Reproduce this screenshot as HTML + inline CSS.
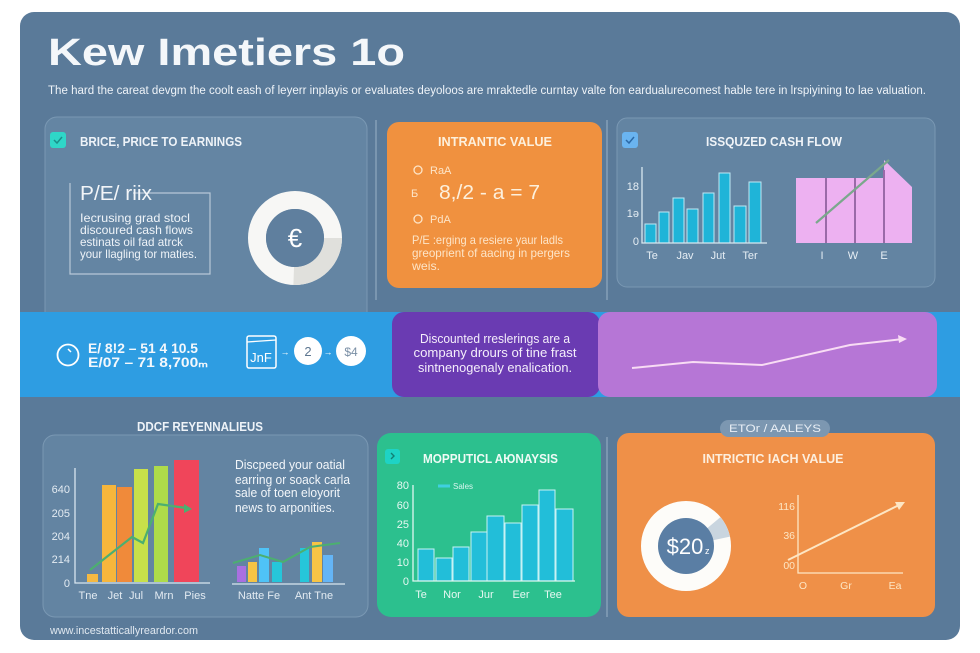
<!DOCTYPE html>
<html><head><meta charset="utf-8"><style>
html,body{margin:0;padding:0;background:#fff;}
svg{display:block;}
text{font-family:"Liberation Sans",sans-serif;}
</style></head><body>
<svg width="980" height="653" viewBox="0 0 980 653" xmlns="http://www.w3.org/2000/svg">
<rect width="980" height="653" fill="#ffffff"/>
<!-- main panel -->
<rect x="20" y="12" width="940" height="628" rx="14" fill="#5a7a99"/>
<text x="48" y="65" font-size="38" font-weight="bold" fill="#f4f7fa" textLength="357" lengthAdjust="spacingAndGlyphs">Kew Imetiers 1o</text>
<text x="48" y="94" font-size="11.5" fill="#eef3f8" textLength="878" lengthAdjust="spacingAndGlyphs">The hard the careat devgm the coolt eash of leyerr inplayis or evaluates deyoloos are mraktedle curntay valte fon eardualurecomest hable tere in lrspiyining to lae valuation.</text>

<!-- top-left card -->
<rect x="45" y="117" width="322" height="213" rx="12" fill="#6485a3" stroke="#7a98b3" stroke-width="1"/>
<rect x="50" y="132" width="16" height="16" rx="3" fill="#2fd6c8"/>
<path d="M54 140 l3 3 l5 -6" stroke="#1a8f8a" stroke-width="1.5" fill="none"/>
<text x="80" y="146" font-size="13" font-weight="bold" fill="#eef3f8" textLength="162" lengthAdjust="spacingAndGlyphs">BRICE, PRICE TO EARNINGS</text>
<path d="M70 183 V274 H210 V193 H133" stroke="#b7c8d8" stroke-width="1.2" fill="none"/>
<text x="80" y="200" font-size="20" fill="#f2f5f8" textLength="72" lengthAdjust="spacingAndGlyphs">P/E/ riix</text>
<g font-size="12" fill="#eef3f8">
<text x="80" y="222" textLength="110" lengthAdjust="spacingAndGlyphs">Iecrusing grad stocl</text>
<text x="80" y="234" textLength="113" lengthAdjust="spacingAndGlyphs">discoured cash flows</text>
<text x="80" y="246" textLength="103" lengthAdjust="spacingAndGlyphs">estinats oil fad atrck</text>
<text x="80" y="258" textLength="117" lengthAdjust="spacingAndGlyphs">your llagling tor maties.</text>
</g>
<circle cx="295" cy="238" r="38" fill="none" stroke="#f7f7f5" stroke-width="18"/>
<path d="M333 238 A38 38 0 0 1 293.7 276" fill="none" stroke="#e0e0dc" stroke-width="18"/>
<circle cx="295" cy="238" r="29" fill="#5f7f9e"/>
<text x="295" y="247" font-size="26" fill="#ffffff" text-anchor="middle">€</text>

<line x1="376" y1="120" x2="376" y2="300" stroke="#8fa9c0" stroke-width="1.2"/>
<line x1="607" y1="120" x2="607" y2="300" stroke="#8fa9c0" stroke-width="1.2"/>

<!-- top-middle orange -->
<rect x="387" y="122" width="215" height="166" rx="12" fill="#f0913f"/>
<text x="495" y="146" font-size="12.5" font-weight="bold" fill="#fdf0dc" text-anchor="middle" textLength="114" lengthAdjust="spacingAndGlyphs">INTRANTIC VALUE</text>
<circle cx="418" cy="170" r="4" fill="none" stroke="#fde5c8" stroke-width="1.3"/>
<text x="430" y="174" font-size="11" fill="#fde5c8">RaA</text>
<text x="411" y="197" font-size="11" fill="#fde5c8">Б</text>
<text x="439" y="199" font-size="20" fill="#fdf0dc" textLength="101" lengthAdjust="spacingAndGlyphs">8,/2 - a = 7</text>
<circle cx="418" cy="219" r="4" fill="none" stroke="#fde5c8" stroke-width="1.3"/>
<text x="430" y="223" font-size="11" fill="#fde5c8">PdA</text>
<g font-size="12" fill="#fde5c8">
<text x="412" y="244" textLength="151" lengthAdjust="spacingAndGlyphs">P/E :erging a resiere yaur ladls</text>
<text x="412" y="257" textLength="158" lengthAdjust="spacingAndGlyphs">greoprient of aacing in pergers</text>
<text x="412" y="270" textLength="28" lengthAdjust="spacingAndGlyphs">weis.</text>
</g>

<!-- top-right card -->
<rect x="617" y="118" width="318" height="169" rx="10" fill="#6384a2" stroke="#7a98b3" stroke-width="1"/>
<rect x="622" y="132" width="16" height="16" rx="3" fill="#6ab4f0"/>
<path d="M626 140 l3 3 l5 -6" stroke="#2b6aa8" stroke-width="1.5" fill="none"/>
<text x="774" y="146" font-size="13" font-weight="bold" fill="#f0f4f8" text-anchor="middle" textLength="136" lengthAdjust="spacingAndGlyphs">ISSQUZED CASH FLOW</text>
<g fill="#1fb4d8" stroke="#bfe8f4" stroke-width="1">
<rect x="645" y="224" width="11" height="19"/>
<rect x="659" y="212" width="10" height="31"/>
<rect x="673" y="198" width="11" height="45"/>
<rect x="687" y="209" width="11" height="34"/>
<rect x="703" y="193" width="11" height="50"/>
<rect x="719" y="173" width="11" height="70"/>
<rect x="734" y="206" width="12" height="37"/>
<rect x="749" y="182" width="12" height="61"/>
</g>
<path d="M642 167 V243 H767" stroke="#d8e8f0" stroke-width="1.3" fill="none"/>
<g font-size="11" fill="#e6eef4">
<text x="639" y="190" text-anchor="end">18</text>
<text x="639" y="217" text-anchor="end">1ə</text>
<text x="639" y="245" text-anchor="end">0</text>
<text x="652" y="259" text-anchor="middle">Te</text>
<text x="685" y="259" text-anchor="middle">Jav</text>
<text x="718" y="259" text-anchor="middle">Jut</text>
<text x="750" y="259" text-anchor="middle">Ter</text>
</g>
<g fill="#edb1f1">
<rect x="796" y="178" width="88" height="65"/>
<polygon points="884,160 912,187 912,243 884,243"/>
</g>
<g stroke="#9a6aa8" stroke-width="2">
<line x1="826" y1="178" x2="826" y2="243"/>
<line x1="855" y1="178" x2="855" y2="243"/>
<line x1="884" y1="170" x2="884" y2="243"/>
</g>
<line x1="816" y1="223" x2="889" y2="160" stroke="#7aa88c" stroke-width="2.2"/>
<g font-size="11" fill="#e6eef4" text-anchor="middle">
<text x="822" y="259">I</text>
<text x="853" y="259">W</text>
<text x="884" y="259">E</text>
</g>

<!-- middle band -->
<rect x="20" y="312" width="940" height="85" fill="#2e9de2"/>
<circle cx="68" cy="355" r="10.5" fill="none" stroke="#ffffff" stroke-width="1.8"/>
<line x1="68" y1="349" x2="71" y2="352" stroke="#ffffff" stroke-width="1.5"/>
<g font-size="13.5" font-weight="bold" fill="#f4f8fc">
<text x="88" y="353" textLength="110" lengthAdjust="spacingAndGlyphs">E/ 8!2 – 51 4 10.5</text>
<text x="88" y="367" textLength="120" lengthAdjust="spacingAndGlyphs">E/07 – 71 8,700ₘ</text>
</g>
<rect x="247" y="336" width="29" height="32" rx="2" fill="none" stroke="#ffffff" stroke-width="1.5"/>
<line x1="247" y1="342" x2="276" y2="340" stroke="#ffffff" stroke-width="1.3"/>
<text x="261" y="362" font-size="13" fill="#ffffff" text-anchor="middle">JnF</text>
<text x="285" y="355" font-size="9" fill="#ffffff" text-anchor="middle">→</text>
<circle cx="308" cy="351" r="14" fill="#ffffff"/>
<text x="308" y="356" font-size="13" fill="#5d7690" text-anchor="middle">2</text>
<text x="328" y="355" font-size="9" fill="#ffffff" text-anchor="middle">→</text>
<circle cx="351" cy="351" r="15" fill="#ffffff"/>
<text x="351" y="356" font-size="12" fill="#7a8fa5" text-anchor="middle">$4</text>

<rect x="392" y="312" width="208" height="85" rx="12" fill="#6a3bb2"/>
<g font-size="12.5" fill="#f4eefb" text-anchor="middle">
<text x="495" y="343" textLength="150" lengthAdjust="spacingAndGlyphs">Discounted rreslerings are a</text>
<text x="495" y="357" textLength="163" lengthAdjust="spacingAndGlyphs">company drours of tine frast</text>
<text x="495" y="372" textLength="154" lengthAdjust="spacingAndGlyphs">sintnenogenaly enalication.</text>
</g>
<rect x="598" y="312" width="339" height="85" rx="12" fill="#b676d6"/>
<polyline points="632,368 693,362 762,365 850,345 903,339" fill="none" stroke="#f8dcf4" stroke-width="2"/>
<polygon points="907,339 898,335 899,343" fill="#f8dcf4"/>

<!-- bottom-left -->
<text x="200" y="431" font-size="12.5" font-weight="bold" fill="#eef3f8" text-anchor="middle" textLength="126" lengthAdjust="spacingAndGlyphs">DDCF REYENNALIEUS</text>
<rect x="43" y="435" width="325" height="182" rx="12" fill="#6384a2" stroke="#7a98b3" stroke-width="1"/>
<rect x="87" y="574" width="11" height="8" fill="#f5b942"/>
<rect x="102" y="485" width="14" height="97" fill="#f6b63c"/>
<rect x="117" y="487" width="15" height="95" fill="#f08a3a"/>
<rect x="134" y="469" width="14" height="113" fill="#c8e04a"/>
<rect x="154" y="466" width="14" height="116" fill="#aedb4a"/>
<rect x="174" y="460" width="25" height="122" fill="#f0455a"/>
<path d="M75 468 V583 H210" stroke="#d8e5ef" stroke-width="1.3" fill="none"/>
<polyline points="90,570 132,537 143,543 158,504 186,508" fill="none" stroke="#4caf70" stroke-width="2.2"/>
<polygon points="192,509 184,504 184,513" fill="#4caf70"/>
<g font-size="11" fill="#e3ebf2">
<text x="70" y="493" text-anchor="end">640</text>
<text x="70" y="517" text-anchor="end">205</text>
<text x="70" y="540" text-anchor="end">204</text>
<text x="70" y="563" text-anchor="end">214</text>
<text x="70" y="587" text-anchor="end">0</text>
<text x="88" y="599" text-anchor="middle">Tne</text>
<text x="115" y="599" text-anchor="middle">Jet</text>
<text x="136" y="599" text-anchor="middle">Jul</text>
<text x="164" y="599" text-anchor="middle">Mrn</text>
<text x="195" y="599" text-anchor="middle">Pies</text>
</g>
<g font-size="12.5" fill="#f2f6fa">
<text x="235" y="469" textLength="110" lengthAdjust="spacingAndGlyphs">Discpeed your oatial</text>
<text x="235" y="484" textLength="115" lengthAdjust="spacingAndGlyphs">earring or soack carla</text>
<text x="235" y="497" textLength="105" lengthAdjust="spacingAndGlyphs">sale of toen eloyorit</text>
<text x="235" y="512" textLength="100" lengthAdjust="spacingAndGlyphs">news to arponities.</text>
</g>
<rect x="237" y="566" width="9" height="16" fill="#a970e0"/>
<rect x="248" y="562" width="9" height="20" fill="#f6c445"/>
<rect x="259" y="548" width="10" height="34" fill="#4fc3f7"/>
<rect x="272" y="562" width="10" height="20" fill="#26c6da"/>
<rect x="300" y="548" width="9" height="34" fill="#26c6da"/>
<rect x="312" y="542" width="10" height="40" fill="#f6c445"/>
<rect x="323" y="555" width="10" height="27" fill="#64b5f6"/>
<line x1="232" y1="584" x2="345" y2="584" stroke="#d8e5ef" stroke-width="1.3"/>
<polyline points="233,563 260,555 283,562 310,547 340,543" fill="none" stroke="#4caf70" stroke-width="2"/>
<g font-size="11" fill="#e3ebf2" text-anchor="middle">
<text x="259" y="599">Natte Fe</text>
<text x="314" y="599">Ant Tne</text>
</g>
<text x="50" y="634" font-size="11" fill="#e0e8f0" textLength="148" lengthAdjust="spacingAndGlyphs">www.incestatticallyreardor.com</text>

<!-- bottom-middle green -->
<rect x="377" y="433" width="224" height="184" rx="14" fill="#2cc08e"/>
<rect x="385" y="449" width="15" height="15" rx="3" fill="#1ed3c5"/>
<path d="M391 453 l3 3 l-3 3" stroke="#137f74" stroke-width="1.4" fill="none"/>
<text x="423" y="463" font-size="12.5" font-weight="bold" fill="#eefaf5" textLength="135" lengthAdjust="spacingAndGlyphs">MOPPUTICL AЮNAYSIS</text>
<line x1="438" y1="486" x2="450" y2="486" stroke="#3fd0e0" stroke-width="3"/>
<text x="453" y="489" font-size="8" fill="#d8f4ee">Sales</text>
<g fill="#22bed9" stroke="#c8f2f4" stroke-width="1">
<rect x="418" y="549" width="16" height="32"/>
<rect x="436" y="558" width="16" height="23"/>
<rect x="453" y="547" width="16" height="34"/>
<rect x="471" y="532" width="16" height="49"/>
<rect x="487" y="516" width="17" height="65"/>
<rect x="505" y="523" width="16" height="58"/>
<rect x="522" y="505" width="16" height="76"/>
<rect x="539" y="490" width="16" height="91"/>
<rect x="556" y="509" width="17" height="72"/>
</g>
<path d="M413 485 V581 H575" stroke="#dff6f0" stroke-width="1.3" fill="none"/>
<g font-size="11" fill="#e6f7f2">
<text x="409" y="489" text-anchor="end">80</text>
<text x="409" y="509" text-anchor="end">60</text>
<text x="409" y="528" text-anchor="end">25</text>
<text x="409" y="547" text-anchor="end">40</text>
<text x="409" y="566" text-anchor="end">10</text>
<text x="409" y="585" text-anchor="end">0</text>
<text x="421" y="598" text-anchor="middle">Te</text>
<text x="452" y="598" text-anchor="middle">Nor</text>
<text x="486" y="598" text-anchor="middle">Jur</text>
<text x="521" y="598" text-anchor="middle">Eer</text>
<text x="553" y="598" text-anchor="middle">Tee</text>
</g>
<line x1="607" y1="437" x2="607" y2="617" stroke="#8fa9c0" stroke-width="1.2"/>

<!-- bottom-right -->
<rect x="617" y="433" width="318" height="184" rx="12" fill="#ef9048"/>
<rect x="720" y="420" width="110" height="17" rx="8.5" fill="#7c97b1"/>
<text x="775" y="432" font-size="11" fill="#e8eef5" text-anchor="middle" textLength="92" lengthAdjust="spacingAndGlyphs">ETOr / AALEYS</text>
<text x="773" y="463" font-size="12.5" font-weight="bold" fill="#fdeedd" text-anchor="middle" textLength="141" lengthAdjust="spacingAndGlyphs">INTRICTIC IACH VALUE</text>
<circle cx="686" cy="546" r="36" fill="none" stroke="#fdfcf9" stroke-width="18"/>
<path d="M713.6 522.9 A36 36 0 0 1 721.2 538.5" fill="none" stroke="#c9d5df" stroke-width="18"/>
<circle cx="686" cy="546" r="28" fill="#5a7ea4"/>
<text x="685" y="554" font-size="22" fill="#ffffff" text-anchor="middle">$20</text>
<text x="705" y="554" font-size="9" fill="#ffffff">z</text>
<path d="M798 495 V573 H903" stroke="#fde6c4" stroke-width="1.3" fill="none"/>
<line x1="788" y1="560" x2="899" y2="505" stroke="#fde6c4" stroke-width="2"/>
<polygon points="905,502 895,502 899,510" fill="#fde6c4"/>
<g font-size="10.5" fill="#fde6c4">
<text x="795" y="510" text-anchor="end">116</text>
<text x="795" y="539" text-anchor="end">36</text>
<text x="795" y="569" text-anchor="end">00</text>
<text x="803" y="589" text-anchor="middle">O</text>
<text x="846" y="589" text-anchor="middle">Gr</text>
<text x="895" y="589" text-anchor="middle">Ea</text>
</g>
</svg>
</body></html>
